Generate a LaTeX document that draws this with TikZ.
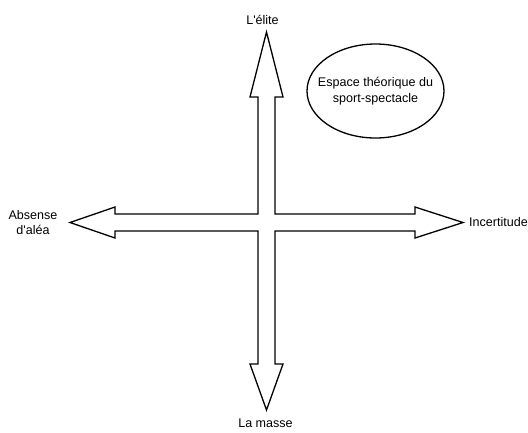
\documentclass[tikz,border=0pt]{standalone}
\usepackage{fontspec}
\setmainfont{Liberation Sans}
\usepackage{tikz}

\tikzset{
  croix/.style={black,line width=1.3bp,line join=miter},
  etiquette/.style={inner sep=0pt,font=\fontsize{12.6}{15.5}\selectfont,align=center},
  bulle/.style={black,line width=1.3bp}
}

\begin{document}
\begin{tikzpicture}[x=1bp,y=-1bp]
\useasboundingbox (0,0) rectangle (528,432);

% pointes des quatre fleches
\coordinate (haut) at (266.5,32);
\coordinate (bas) at (266.5,410);
\coordinate (gauche) at (70,222.5);
\coordinate (droite) at (463,222.5);

\draw[croix] (258,214) -- (258,97) -- (250,97) -- (haut) -- (283,97) -- (275,97) -- (275,214)
  -- (415,214) -- (415,207) -- (droite) -- (415,238) -- (415,231) -- (275,231)
  -- (275,364) -- (283,364) -- (bas) -- (250,364) -- (258,364) -- (258,231)
  -- (115,231) -- (115,238) -- (gauche) -- (115,207) -- (115,214) -- cycle;

\node[etiquette] (elite) at (262.5,20) {L\textquotesingle élite};
\node[etiquette] (masse) at (265.5,423) {La masse};
\node[etiquette] (alea) at (33,222.5) {Absense\\d\textquotesingle aléa};
\node[etiquette,anchor=west] (incert) at (469,222.5) {Incertitude};

% bulle
\node[etiquette,font=\fontsize{12.6}{16}\selectfont] (espace) at (375.5,91) {Espace théorique du\\sport-spectacle};
\draw[bulle] (espace.center) ellipse [x radius=68.5, y radius=47];

\end{tikzpicture}
\end{document}
